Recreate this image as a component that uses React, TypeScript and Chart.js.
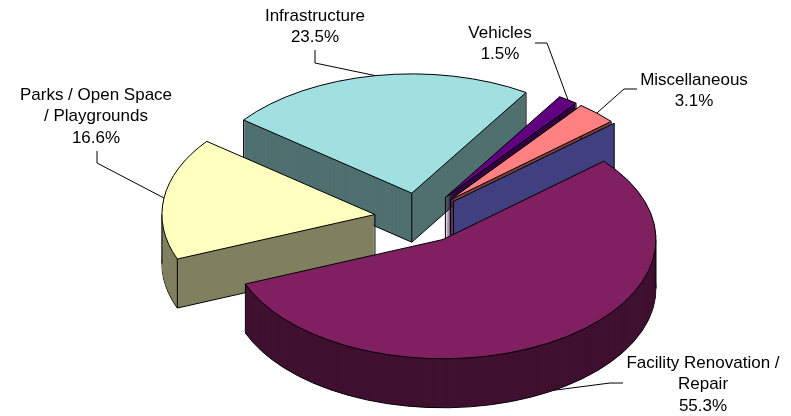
import React, { useEffect, useRef } from 'react';
import { Chart, registerables } from 'chart.js';

Chart.register(...registerables);

// ---- data ----
const categories = ['Other', 'Facility Renovation / Repair', 'Parks / Open Space / Playgrounds', 'Infrastructure', 'Vehicles', 'Miscellaneous'];
const labelLines: string[][] = [[], ['Facility Renovation /', 'Repair'], ['Parks / Open Space', '/ Playgrounds'], ['Infrastructure'], ['Vehicles'], ['Miscellaneous']];
const values = [0, 55.3, 16.6, 23.5, 1.5, 3.1];
const topColors = ['#8080FF', '#802060', '#FFFFC0', '#A0E0E0', '#600080', '#FF8080'];
const sideColors = ['#404080', '#401030', '#808060', '#507070', '#300040', '#804040'];

// ---- layout ----
const W = 791;
const H = 416;
const CX = 419.5;
const CY = 218;
const K = 0.56;
const DEPTH = 49;
const EXPLODE = 45;
const RADIUS = 213;
const ROTATION = 49;
const LINE_H = 21.5;
const FONT = '17px "Liberation Sans", Arial, sans-serif';

type Lay = { x: number; y: number; elbow: number[][] } | null;
const labelLayout: Lay[] = [
  null,
  { x: 703, y: 363, elbow: [[623, 383], [610, 383]] },
  { x: 96, y: 95, elbow: [[97, 151], [97, 163]] },
  { x: 315, y: 16, elbow: [[315, 50], [315, 63]] },
  { x: 500, y: 33, elbow: [[535, 43], [547, 43]] },
  { x: 694, y: 80, elbow: [[637, 89], [624, 89]] },
];

function geom(chart: any) {
  const els = chart.getDatasetMeta(0).data as any[];
  const ox = els[0].x;
  const oy = els[0].y;
  const mids = els.map((el) => (el.startAngle + el.endAngle) / 2);
  const flatPt = (i: number, ang: number, r: number) => [
    ox + Math.cos(mids[i]) * EXPLODE + r * Math.cos(ang),
    oy + Math.sin(mids[i]) * EXPLODE + r * Math.sin(ang),
  ];
  const toScreen = (p: number[], d = 0) => [CX + (p[0] - ox), CY + (p[1] - oy) * K + d];
  return { els, ox, oy, mids, flatPt, toScreen };
}

const pie3d = {
  id: 'pie3d',
  beforeDatasetsDraw(chart: any) {
    const ctx: CanvasRenderingContext2D = chart.ctx;
    const g = geom(chart);
    const { els, ox, oy, mids, flatPt, toScreen } = g;
    const withT = (i: number, d: number, fn: () => void) => {
      ctx.save();
      ctx.translate(CX, CY + d);
      ctx.scale(1, K);
      ctx.translate(-ox, -oy);
      ctx.translate(Math.cos(mids[i]) * EXPLODE, Math.sin(mids[i]) * EXPLODE);
      fn();
      ctx.restore();
    };
    const drawWith = (el: any, color: string) => {
      const p = Object.create(el);
      p.options = { ...el.options, backgroundColor: color, borderWidth: 0, offset: 0, spacing: 0 };
      el.draw.call(p, ctx);
    };
    const strokePath = (i: number, d: number) => {
      const el = els[i];
      withT(i, d, () => {
        ctx.beginPath();
        ctx.moveTo(el.x, el.y);
        ctx.arc(el.x, el.y, el.outerRadius, el.startAngle, el.endAngle);
        ctx.closePath();
      });
      ctx.save();
      ctx.lineWidth = 1;
      ctx.strokeStyle = '#000';
      ctx.lineJoin = 'round';
      ctx.stroke();
      ctx.restore();
    };
    const inRange = (el: any, t0: number) => {
      for (let k = -3; k <= 3; k++) {
        const t = t0 + k * Math.PI * 2;
        if (t > el.startAngle && t < el.endAngle) return true;
      }
      return false;
    };
    const order = els.map((_, i) => i).sort((a, b) => Math.sin(mids[a]) - Math.sin(mids[b]));
    for (const i of order) {
      const el = els[i];
      if (el.circumference === 0) {
        // zero-size slice: only its cut face shows
        const a = toScreen(flatPt(i, el.startAngle, 0));
        const b = toScreen(flatPt(i, el.startAngle, el.outerRadius));
        ctx.save();
        ctx.beginPath();
        ctx.moveTo(a[0], a[1]);
        ctx.lineTo(b[0], b[1]);
        ctx.lineTo(b[0], b[1] + DEPTH);
        ctx.lineTo(a[0], a[1] + DEPTH);
        ctx.closePath();
        ctx.fillStyle = sideColors[i];
        ctx.fill();
        ctx.lineWidth = 1;
        ctx.strokeStyle = '#000';
        ctx.stroke();
        ctx.restore();
        continue;
      }
      withT(i, DEPTH, () => drawWith(el, sideColors[i]));
      strokePath(i, DEPTH);
      for (let d = DEPTH - 1; d >= 1; d--) withT(i, d, () => drawWith(el, sideColors[i]));
      // vertical edges
      const corners: number[][] = [
        flatPt(i, el.startAngle, 0),
        flatPt(i, el.startAngle, el.outerRadius),
        flatPt(i, el.endAngle, el.outerRadius),
      ];
      if (inRange(el, 0)) corners.push(flatPt(i, 0, el.outerRadius));
      if (inRange(el, Math.PI)) corners.push(flatPt(i, Math.PI, el.outerRadius));
      ctx.save();
      ctx.lineWidth = 1;
      ctx.strokeStyle = '#000';
      ctx.beginPath();
      for (const c of corners) {
        const s = toScreen(c);
        ctx.moveTo(s[0], s[1]);
        ctx.lineTo(s[0], s[1] + DEPTH);
      }
      ctx.stroke();
      ctx.restore();
      // top face
      withT(i, 0, () => drawWith(el, topColors[i]));
      strokePath(i, 0);
    }
    return false;
  },
  afterDraw(chart: any) {
    const ctx: CanvasRenderingContext2D = chart.ctx;
    const { els, mids, flatPt, toScreen } = geom(chart);
    const total = values.reduce((s, v) => s + v, 0);
    ctx.save();
    ctx.font = FONT;
    ctx.fillStyle = '#000';
    ctx.strokeStyle = '#000';
    ctx.lineWidth = 1;
    ctx.textAlign = 'center';
    ctx.textBaseline = 'middle';
    els.forEach((el, i) => {
      const lay = labelLayout[i];
      if (!lay) return;
      const pct = ((values[i] / total) * 100).toFixed(1) + '%';
      const lines = [...labelLines[i], pct];
      lines.forEach((t, j) => ctx.fillText(t, lay.x, lay.y + j * LINE_H));
      const front = Math.sin(mids[i]) > 0.3;
      const rim = toScreen(flatPt(i, mids[i], el.outerRadius), front ? DEPTH : 0);
      ctx.beginPath();
      ctx.moveTo(lay.elbow[0][0], lay.elbow[0][1]);
      ctx.lineTo(lay.elbow[1][0], lay.elbow[1][1]);
      ctx.lineTo(rim[0], rim[1]);
      ctx.stroke();
    });
    ctx.restore();
  },
};

export default function App() {
  const ref = useRef<HTMLCanvasElement | null>(null);
  useEffect(() => {
    document.body.style.margin = '0';
    const canvas = ref.current;
    if (!canvas) return;
    const chart = new Chart(canvas, {
      type: 'pie',
      data: {
        labels: categories,
        datasets: [
          {
            data: values,
            backgroundColor: topColors,
            borderWidth: 0,
          },
        ],
      },
      options: {
        responsive: false,
        animation: false,
        devicePixelRatio: 1,
        rotation: ROTATION,
        radius: RADIUS,
        events: [],
        layout: { padding: 0 },
        plugins: { legend: { display: false }, tooltip: { enabled: false } },
      } as any,
      plugins: [pie3d as any],
    });
    return () => chart.destroy();
  }, []);
  return (
    <div style={{ width: W, height: H, background: '#fff' }}>
      <canvas ref={ref} width={W} height={H} style={{ display: 'block' }} />
    </div>
  );
}
